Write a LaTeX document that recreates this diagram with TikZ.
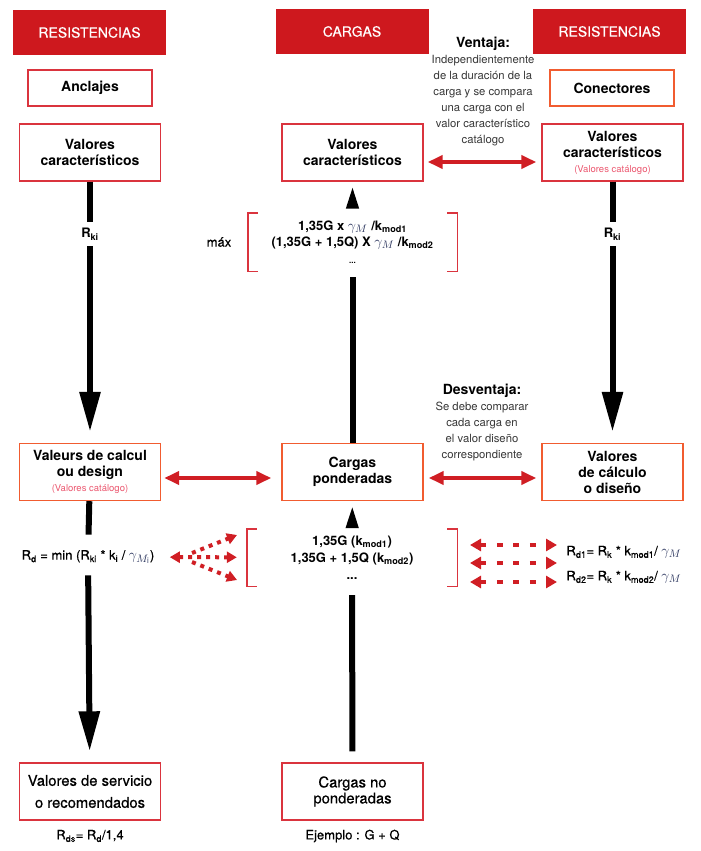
\documentclass[tikz,border=0pt]{standalone}
\usepackage{fontspec}
\setmainfont{TeX Gyre Heros}
\newfontfamily\medfont{TeX Gyre Heros}[FakeBold=0.5]
\usetikzlibrary{arrows.meta, positioning}
\definecolor{hdrred}{RGB}{206,24,30}
\definecolor{boxred}{RGB}{218,52,62}
\definecolor{boxorange}{RGB}{241,92,48}
\definecolor{catpink}{RGB}{236,88,112}
\definecolor{arrred}{RGB}{208,30,36}
\definecolor{notegray}{RGB}{55,55,55}
\definecolor{gammablue}{RGB}{45,55,95}
\newcommand{\gM}{\textcolor{gammablue}{\scalebox{1.2}{$\gamma_M$}}}
\newcommand{\catnote}{\normalfont\color{catpink}\fontsize{9.5}{11}\selectfont}
\tikzstyle{header}=[fill=hdrred, text=white, minimum width=153pt, minimum height=45pt, inner sep=0pt, font=\medfont\fontsize{14}{16}\selectfont]
\tikzstyle{box}=[draw=boxred, line width=1.4pt, fill=white, minimum width=141pt, minimum height=57pt, inner sep=0pt, align=center, font=\bfseries\fontsize{14}{16}\selectfont]
\tikzstyle{obox}=[box, draw=boxorange]
\tikzstyle{smallbox}=[box, minimum width=124pt, minimum height=36pt]
\tikzstyle{note}=[align=center, text=notegray, inner sep=0pt, font=\fontsize{11.3}{16}\selectfont]
\tikzstyle{formula}=[align=center, font=\medfont\fontsize{13}{16}\selectfont]
\tikzstyle{brk}=[draw=boxred, line width=1.4pt]
\tikzstyle{flow}=[line width=6pt]
\tikzstyle{bigflow}=[line width=6pt, -{Triangle[length=40pt,width=20pt]}]
\tikzstyle{smallflow}=[line width=6pt, -{Triangle[length=25pt,width=11pt]}]
\tikzstyle{bothred}=[arrred, line width=4pt, {Triangle[length=15pt,width=13pt]}-{Triangle[length=15pt,width=13pt]}]
\tikzstyle{dotred}=[arrred, line width=4.5pt, dash pattern=on 6pt off 10.5pt, {Triangle[length=11pt,width=12pt]}-{Triangle[length=11pt,width=12pt]}]
\tikzstyle{fanred}=[arrred, line width=4pt, dash pattern=on 4pt off 5pt, -{Triangle[length=10pt,width=11pt]}]

\begin{document}
\begin{tikzpicture}[x=1pt, y=-1pt]
\useasboundingbox (0,0) rectangle (701,851);

% column heads
\node[header] (hl) at (89.5,32.5) {RESISTENCIAS};
\node[header] (hc) at (352,31.5) {CARGAS};
\node[header] (hr) at (609.5,31.5) {RESISTENCIAS};

\node[smallbox] (anc) at (90,88) {Anclajes};
\node[smallbox, draw=boxorange] (con) at (612,88) {Conectores};

% characteristic values
\node[box] (vcl) at (90,152.5) {Valores\\característicos};
\node[box] (vcc) at (352.5,152.5) {Valores\\característicos};
\node[box] (vcr) at (612.5,152.5) {Valores\\característicos\\[-1pt]{\catnote (Valores catálogo)}};

\node[note, anchor=north] (ven) at (483,37) {{\color{black}\bfseries\fontsize{14}{16}\selectfont Ventaja:}\\Independientemente\\de la duración de la\\carga y se compara\\una carga con el\\valor característico\\catálogo};

\node[formula, font=\bfseries\fontsize{13}{16}\selectfont] (rkl) [inner sep=6pt] at (90,234) {R\textsubscript{ki}};
\node[formula, font=\bfseries\fontsize{13}{16}\selectfont] (rkr) [inner sep=6pt] at (612.5,234) {R\textsubscript{ki}};

\node[formula, font=\bfseries\fontsize{13}{16}\selectfont, minimum width=209pt, minimum height=58pt] (fmax) at (352.5,242) {1,35G x \gM\ /k\textsubscript{mod1}\\(1,35G + 1,5Q) X \gM\ /k\textsubscript{mod2}\\[1pt]{\fontsize{8}{8}\selectfont ...}};
\node[formula, left=13pt of fmax] (max) {máx};
\draw[brk] ([xshift=10pt]fmax.north west) -- (fmax.north west) -- (fmax.south west) -- ([xshift=10pt]fmax.south west);
\draw[brk] ([xshift=-10pt]fmax.north east) -- (fmax.north east) -- (fmax.south east) -- ([xshift=-10pt]fmax.south east);

% design values
\node[obox] (vdl) at (90,472) {Valeurs de calcul\\ou design\\[-1pt]{\catnote (Valores catálogo)}};
\node[obox] (cp) at (352.5,472) {Cargas\\ponderadas};
\node[obox] (vdr) at (612.5,472) {Valores\\de cálculo\\o diseño};

\node[note, anchor=north] (desv) at (482,384) {{\color{black}\bfseries\fontsize{14}{16}\selectfont Desventaja:}\\Se debe comparar\\cada carga en\\el valor diseño\\correspondiente};

\node[formula] (rd) at (88,557) {R\textsubscript{d} = min (R\textsubscript{ki} * k\textsubscript{i} / \textcolor{gammablue}{\scalebox{1.2}{$\gamma_{M_{\mathrm{i}}}$}})};

\node[formula, font=\bfseries\fontsize{13}{17}\selectfont, minimum width=210pt, minimum height=57pt] (fmod) at (352,557.5) {1,35G (k\textsubscript{mod1})\\1,35G + 1,5Q (k\textsubscript{mod2})\\...};
\draw[brk] ([xshift=10pt]fmod.north west) -- (fmod.north west) -- (fmod.south west) -- ([xshift=10pt]fmod.south west);
\draw[brk] ([xshift=-10pt]fmod.north east) -- (fmod.north east) -- (fmod.south east) -- ([xshift=-10pt]fmod.south east);

\node[formula, anchor=west] (rd1) at (563,552) {R\textsubscript{d1}= R\textsubscript{k} * k\textsubscript{mod1}/ \gM};
\node[formula, anchor=west] (rd2) at (563,577) {R\textsubscript{d2}= R\textsubscript{k} * k\textsubscript{mod2}/ \gM};

% service values
\node[box, font=\medfont\fontsize{14.8}{22}\selectfont] (vs) at (90,791.5) {Valores de servicio\\o recomendados};
\node[box, font=\medfont\fontsize{14.8}{16}\selectfont] (cnp) at (352.5,791.5) {Cargas no\\ponderadas};
\node[formula] (rds) at (90,836) {R\textsubscript{ds}= R\textsubscript{d}/1,4};
\node[formula] (ej) at (352.5,836) {Ejemplo : G + Q};

% black flows
\draw[flow] (vcl) -- (rkl);
\draw[bigflow, shorten >=11pt] (rkl) -- (vdl);
\draw[flow] (vcr) -- (rkr);
\draw[bigflow, shorten >=11pt] (rkr) -- (vdr);
\draw[flow, shorten >=12pt] (vdl) -- (rd);
\draw[bigflow, shorten <=8pt, shorten >=11pt] (rd) -- (vs);
\draw[flow, shorten >=6pt] (cp) -- (fmax);
\draw[smallflow, shorten <=5pt, shorten >=2pt] (fmax) -- (vcc);
\draw[flow, shorten <=11pt, shorten >=9pt] (cnp) -- (fmod);
\draw[smallflow, shorten <=5pt, shorten >=2pt] (fmod) -- (cp);

% red comparisons
\draw[bothred, shorten <=4pt, shorten >=5pt] ([yshift=-9.5pt]vcc.east) -- ([yshift=-9.5pt]vcr.west);
\draw[bothred, shorten <=3pt, shorten >=10pt] ([yshift=-6pt]vdl.east) -- ([yshift=-6pt]cp.west);
\draw[bothred, shorten <=5pt, shorten >=5pt] ([yshift=-6pt]cp.east) -- ([yshift=-6pt]vdr.west);

\draw[dotred, dash pattern=on 4pt off 5pt, {Triangle[length=10pt,width=11pt]}-{Triangle[length=10pt,width=11pt]}, line width=4pt, shorten <=12pt, shorten >=10pt] (rd) -- (fmod);
\coordinate (fa) at (192,553);
\coordinate (fb) at (237,535);
\coordinate (fc) at (192,562);
\coordinate (fd) at (237,580);
\draw[fanred] (fa) -- (fb);
\draw[fanred] (fc) -- (fd);

\foreach \y/\n in {545/1,563/2,582/3}
{
	\coordinate (dl\n) at (470,\y);
	\coordinate (dr\n) at (557,\y);
	\draw[dotred] (dl\n) -- (dr\n);
}
\end{tikzpicture}
\end{document}
